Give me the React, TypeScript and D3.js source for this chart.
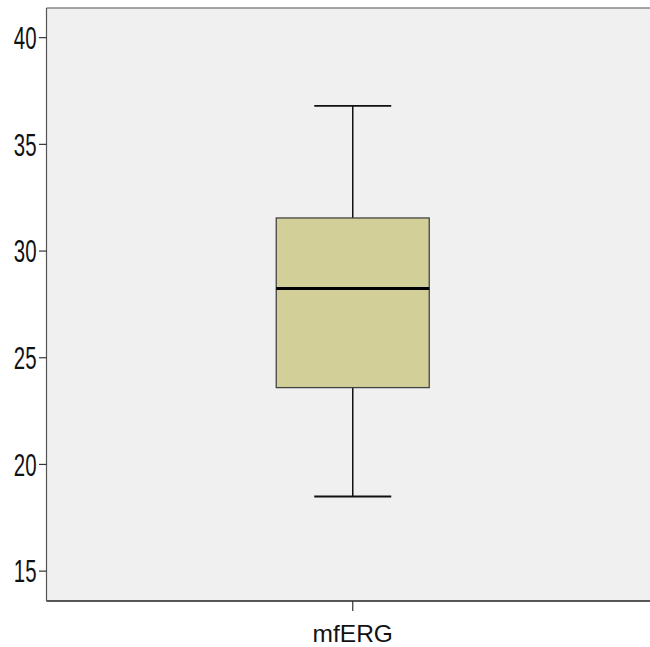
import React from 'react';
import * as d3 from 'd3';

// box plot summary
const categories = ['mfERG'];
const lowWhisker = [18.5];
const q1 = [23.6];
const median = [28.25];
const q3 = [31.55];
const highWhisker = [36.8];
const yTicks = [15, 20, 25, 30, 35, 40];

const W = 650;
const H = 647;
const left = 46.5;
const top = 8;
const bottom = 601;
const right = 650;

const App = () => {
  const y = d3.scaleLinear().domain([13.6, 41.39]).range([bottom, top]);
  // the category band runs a little past the right edge, so its centre sits at ~352.7
  const x = d3.scaleBand().domain(categories).range([left, 659]).paddingInner(0).paddingOuter(0);
  const boxW = 153;
  const capW = 77;

  return (
    <svg width={W} height={H} style={{ position: 'absolute', left: 0, top: 0, background: '#fff' }}>
      <rect x={left} y={top} width={right - left} height={bottom - top} fill="#f0f0f0" />
      <line x1={left} x2={right} y1={top} y2={top} stroke="#888" strokeWidth={1.5} />
      <line x1={left} x2={right} y1={bottom} y2={bottom} stroke="#222" strokeWidth={1.5} />
      <line x1={left} x2={left} y1={top} y2={bottom} stroke="#555" strokeWidth={1.2} />

      {yTicks.map((t) => (
        <g key={t} transform={`translate(0,${y(t)})`}>
          <line x1={39} x2={left} stroke="#333" strokeWidth={1.2} />
          <text
            transform="translate(36.5,0) scale(0.67,1)"
            textAnchor="end"
            dy="0.37em"
            fontFamily="Liberation Sans, Arial, sans-serif"
            fontSize={30.5}
            fill="#111"
          >
            {t}
          </text>
        </g>
      ))}

      {categories.map((c, i) => {
        const cx = (x(c) as number) + x.bandwidth() / 2;
        return (
          <g key={c}>
            <line x1={cx} x2={cx} y1={y(highWhisker[i])} y2={y(q3[i])} stroke="#111" strokeWidth={1.5} />
            <line x1={cx} x2={cx} y1={y(q1[i])} y2={y(lowWhisker[i])} stroke="#111" strokeWidth={1.5} />
            <line x1={cx - capW / 2} x2={cx + capW / 2} y1={y(highWhisker[i])} y2={y(highWhisker[i])} stroke="#111" strokeWidth={1.8} />
            <line x1={cx - capW / 2} x2={cx + capW / 2} y1={y(lowWhisker[i])} y2={y(lowWhisker[i])} stroke="#111" strokeWidth={2} />
            <rect
              x={cx - boxW / 2}
              y={y(q3[i])}
              width={boxW}
              height={y(q1[i]) - y(q3[i])}
              fill="#d3cf98"
              stroke="#444"
              strokeWidth={1.3}
            />
            <line x1={cx - boxW / 2} x2={cx + boxW / 2} y1={y(median[i])} y2={y(median[i])} stroke="#000" strokeWidth={3} />
            <line x1={cx} x2={cx} y1={bottom} y2={bottom + 10} stroke="#333" strokeWidth={1.2} />
            <text
              x={cx}
              y={642}
              textAnchor="middle"
              fontFamily="Liberation Sans, Arial, sans-serif"
              fontSize={24.5}
              fill="#111"
            >
              {c}
            </text>
          </g>
        );
      })}
    </svg>
  );
};

export default App;
